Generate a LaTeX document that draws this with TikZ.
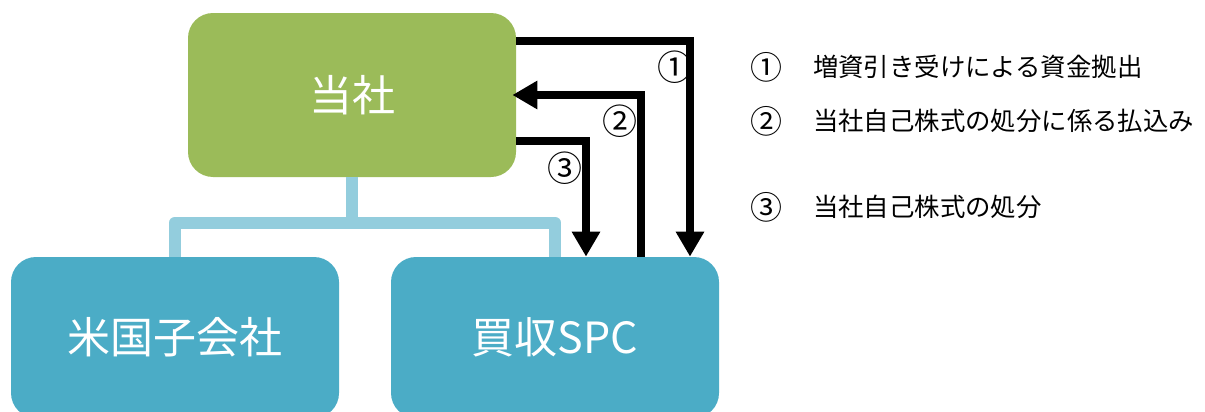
\documentclass[tikz,border=0pt]{standalone}
\usepackage{fontspec}
\setmainfont{Noto Sans CJK JP}
\usetikzlibrary{arrows.meta,positioning}
\definecolor{boxgreen}{HTML}{9BBB59}
\definecolor{boxblue}{HTML}{4BACC6}
\definecolor{treeblue}{HTML}{93CDDD}
\begin{document}
\begin{tikzpicture}[x=0.5pt, y=-0.5pt,
    company/.style={rounded corners=12.5pt, minimum width=164pt, inner sep=0pt, text=white, font=\fontsize{21.5}{26}\selectfont},
    tree/.style={treeblue, line width=6pt, line join=round},
    flow/.style={line width=4pt, -{Triangle[width=13.5pt, length=12.5pt]}},
    num/.style={font=\fontsize{17.5}{20}\selectfont},
    lnum/.style={font=\fontsize{16}{19}\selectfont},
    legend/.style={font=\fontsize{12.7}{15}\selectfont, anchor=west}]
        \clip (0,0) rectangle (1205,412);

        \node[company, fill=boxgreen, minimum height=82pt] (tosha) at (352, 95) {当社};
        \node[company, fill=boxblue, minimum height=80.5pt] (sub) at (175, 337.5) {米国子会社};
        \node[company, fill=boxblue, minimum height=80.5pt] (spc) at (555, 337.5) {買収SPC};

        \coordinate (bar) at (0, 222.5);
        \draw[tree] (tosha.south) -- (tosha.south |- bar);
        \draw[tree] (sub.north) -- (sub.north |- bar) -- (spc.north |- bar) -- (spc.north);

        \draw[flow] ([yshift=27pt]tosha.east) -| ([xshift=67.5pt]spc.north);
        \draw[flow] ([xshift=43pt]spc.north) |- ([xshift=-2pt]tosha.east);
        \draw[flow] ([yshift=-23pt]tosha.east) -| ([xshift=15.5pt]spc.north);

        \node[num] (n1) at (675, 67) {①};
        \node[num] (n2) at (620, 121) {②};
        \node[num] (n3) at (565, 168) {③};

        \node[lnum] (l1) at (766, 67) {①};
        \node[lnum] (l2) at (766, 121) {②};
        \node[lnum] (l3) at (766, 207) {③};
        \node[legend] (t1) at (806, 67) {増資引き受けによる資金拠出};
        \node[legend] (t2) at (806, 121) {当社自己株式の処分に係る払込み};
        \node[legend] (t3) at (806, 207) {当社自己株式の処分};
    \end{tikzpicture}
\end{document}
